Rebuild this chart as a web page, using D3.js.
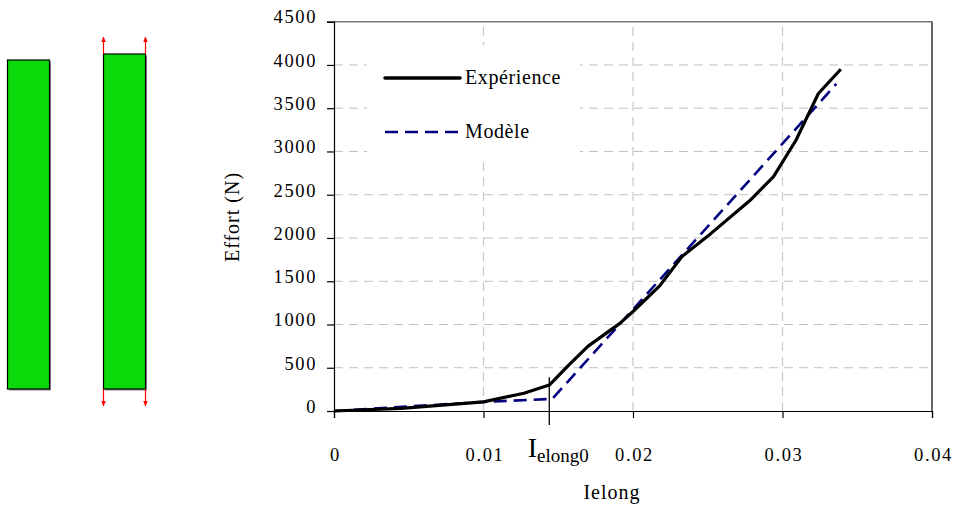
<!DOCTYPE html>
<html><head><meta charset="utf-8">
<script src="https://cdn.jsdelivr.net/npm/d3@7"></script>
<style>
html,body{margin:0;padding:0;background:#fff;}
svg{display:block;font-family:"Liberation Serif","Times New Roman",serif;}
</style></head>
<body>
<svg id="c" width="954" height="506"></svg>
<script>
// ---- data ----
const expX = [0, 0.0045, 0.01, 0.0127, 0.0144, 0.0157, 0.017, 0.0191, 0.02, 0.0218, 0.0233, 0.0252, 0.0278, 0.0294, 0.0309, 0.0324, 0.0339];
const expY = [0, 30, 105, 205, 300, 530, 750, 1010, 1150, 1450, 1790, 2050, 2430, 2710, 3130, 3670, 3950];
const modX = [0, 0.01, 0.0146, 0.0336];
const modY = [0, 105, 140, 3780];
const xTicks = [0, 0.01, 0.02, 0.03, 0.04];
const xTickLabels = ["0", "0.01", "0.02", "0.03", "0.04"];
const yTicks = [0, 500, 1000, 1500, 2000, 2500, 3000, 3500, 4000, 4500];
const yTickLabels = ["0", "500", "1000", "1500", "2000", "2500", "3000", "3500", "4000", "4500"];
const seriesNames = ["Expérience", "Modèle"];
const ielong0 = 0.0144;
const ielong0Top = 390;

const svg = d3.select("#c");
const x = d3.scaleLinear().domain([0, 0.04]).range([334, 932]);
const y = d3.scaleLinear().domain([0, 4500]).range([411, 21.7]);
const serif = '"Liberation Serif","Times New Roman",serif';

// ---- left schematic ----
const schem = svg.append("g");
const green = "#0ad90a";
function bar(x0, x1, y0, y1) {
  schem.append("rect").attr("x", x0 + 1.5).attr("y", y0 + 1.5).attr("width", x1 - x0).attr("height", y1 - y0).attr("fill", "#8a8a8a");
  schem.append("rect").attr("x", x0).attr("y", y0).attr("width", x1 - x0).attr("height", y1 - y0)
    .attr("fill", green).attr("stroke", "#000").attr("stroke-width", 1.2);
}
bar(7.5, 49.5, 60, 389);
bar(103.5, 145.5, 54, 389);
const defs = svg.append("defs");
defs.append("marker").attr("id", "ah").attr("viewBox", "0 0 10 10").attr("refX", 9).attr("refY", 5)
  .attr("markerWidth", 5).attr("markerHeight", 5).attr("orient", "auto-start-reverse")
  .append("path").attr("d", "M0,1 L10,5 L0,9 Z").attr("fill", "#f00");
[103.5, 145.5].forEach(xx => {
  schem.append("line").attr("x1", xx).attr("x2", xx).attr("y1", 54).attr("y2", 37)
    .attr("stroke", "#f00").attr("stroke-width", 1.2).attr("marker-end", "url(#ah)");
  schem.append("line").attr("x1", xx).attr("x2", xx).attr("y1", 389).attr("y2", 406)
    .attr("stroke", "#f00").attr("stroke-width", 1.2).attr("marker-end", "url(#ah)");
});

// ---- grid ----
const grid = svg.append("g");
yTicks.filter(v => v > 0 && v < 4500).forEach(v => {
  grid.append("line").attr("x1", x(0)).attr("x2", x(0.04)).attr("y1", y(v)).attr("y2", y(v))
    .attr("stroke", "#c0c0c0").attr("stroke-width", 1).attr("stroke-dasharray", "9,6");
});
xTicks.filter(v => v > 0 && v < 0.04).forEach(v => {
  grid.append("line").attr("x1", x(v)).attr("x2", x(v)).attr("y1", y(0)).attr("y2", y(4500))
    .attr("stroke", "#c8c8c8").attr("stroke-width", 1.2).attr("stroke-dasharray", "9,6");
});
// frame top & right
svg.append("line").attr("x1", x(0)).attr("x2", x(0.04)).attr("y1", y(4500)).attr("y2", y(4500)).attr("stroke", "#777").attr("stroke-width", 1.5);
svg.append("line").attr("x1", x(0.04)).attr("x2", x(0.04)).attr("y1", y(4500)).attr("y2", y(0)).attr("stroke", "#000").attr("stroke-width", 1.2);

// ---- legend box (white) ----
svg.append("rect").attr("x", 367).attr("y", 45).attr("width", 213).attr("height", 113).attr("fill", "#fff");

// ---- axes ----
const yAxis = d3.axisLeft(y).tickValues(yTicks).tickSize(7).tickPadding(10)
  .tickFormat((d, i) => yTickLabels[i]);
const gy = svg.append("g").attr("transform", `translate(${x(0)},0)`).call(yAxis);
gy.select(".domain").attr("stroke", "#000").attr("stroke-width", 1.2);
gy.selectAll(".tick line").attr("stroke", "#000").attr("stroke-width", 1.2);
gy.selectAll(".tick text").attr("font-size", 18.5).attr("letter-spacing", "1.6px").attr("dy", "0.07em")
  .attr("fill", "#000").style("font-family", serif);

const xAxis = d3.axisBottom(x).tickValues(xTicks).tickSize(7).tickPadding(30)
  .tickFormat((d, i) => xTickLabels[i]);
const gx = svg.append("g").attr("transform", `translate(0,${y(0)})`).call(xAxis);
gx.select(".domain").attr("stroke", "#000").attr("stroke-width", 1.2);
gx.selectAll(".tick line").attr("stroke", "#000").attr("stroke-width", 1.2);
gx.selectAll(".tick text").attr("font-size", 18.5).attr("letter-spacing", "1.6px").attr("dx", "1px")
  .attr("fill", "#000").style("font-family", serif);

// ---- Ielong0 marker ----
svg.append("line").attr("x1", x(ielong0)).attr("x2", x(ielong0)).attr("y1", y(ielong0Top)).attr("y2", y(0) + 14)
  .attr("stroke", "#000").attr("stroke-width", 1.3);
const lab = svg.append("text").attr("x", x(ielong0) + 9).attr("y", 457).attr("text-anchor", "middle").attr("fill", "#000").style("font-family", serif);
lab.append("tspan").attr("font-size", 28).text("I");
lab.append("tspan").attr("font-size", 19).attr("dy", 5).text("elong0");

// ---- series ----
const line = d3.line().x(d => x(d[0])).y(d => y(d[1]));
const expData = expX.map((v, i) => [v, expY[i]]);
const modData = modX.map((v, i) => [v, modY[i]]);
svg.append("path").datum(modData).attr("d", line).attr("fill", "none").attr("stroke", "#000080")
  .attr("stroke-width", 2.6).attr("stroke-dasharray", "13,7");
svg.append("path").datum(expData).attr("d", line).attr("fill", "none").attr("stroke", "#000")
  .attr("stroke-width", 3.2).attr("stroke-linejoin", "round");

// ---- legend ----
svg.append("line").attr("x1", 385).attr("x2", 460).attr("y1", 78).attr("y2", 78)
  .attr("stroke", "#000").attr("stroke-width", 3.5).attr("stroke-linecap", "round");
svg.append("text").attr("x", 465).attr("y", 83.5).attr("font-size", 20).attr("letter-spacing", "0.6px").attr("fill", "#000").style("font-family", serif).text(seriesNames[0]);
svg.append("line").attr("x1", 385).attr("x2", 458).attr("y1", 132).attr("y2", 132)
  .attr("stroke", "#000080").attr("stroke-width", 2.6).attr("stroke-dasharray", "13,7");
svg.append("text").attr("x", 465).attr("y", 138).attr("font-size", 20).attr("letter-spacing", "0.6px").attr("fill", "#000").style("font-family", serif).text(seriesNames[1]);

// ---- axis titles ----
svg.append("text").attr("transform", "translate(239,217) rotate(-90)").attr("text-anchor", "middle")
  .attr("font-size", 20).attr("letter-spacing", "1px").attr("fill", "#000").style("font-family", serif).text("Effort (N)");
svg.append("text").attr("x", 612).attr("y", 499).attr("text-anchor", "middle")
  .attr("font-size", 20).attr("letter-spacing", "1px").attr("fill", "#000").style("font-family", serif).text("Ielong");
</script>
</body></html>
